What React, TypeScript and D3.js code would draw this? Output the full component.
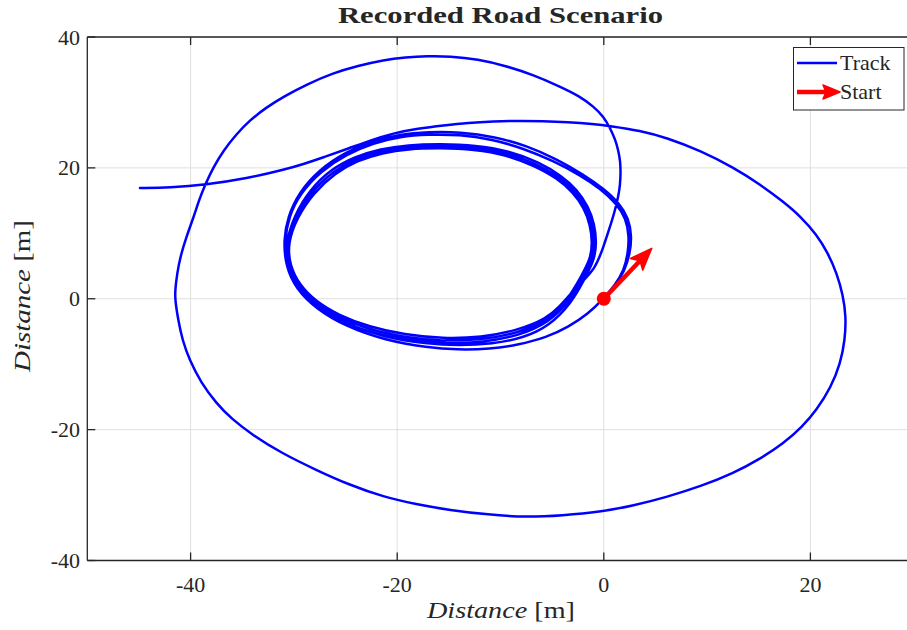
import React from 'react';
import * as d3 from 'd3';

type P = [number, number];

// Axis settings
const xDomain: P = [-50, 30];
const yDomain: P = [-40, 40];
const xTicks = [-40, -20, 0, 20];
const yTicks = [-40, -20, 0, 20, 40];

// Track: laps around the small loop, then the big loop and the tail
const lapA: P[] = [
  [0, 0], [1.1, 2.0], [2.0, 4.2], [2.55, 7.0], [2.7, 9.6], [2.4, 12.3], [1.5, 14.6], [0.0, 16.8],
  [-2.0, 19.0], [-4.5, 21.3], [-7.5, 23.4], [-10.5, 24.75], [-13.9, 25.5], [-17.0, 25.5], [-19.7, 25.15],
  [-22.4, 24.1], [-25.0, 22.4], [-27.5, 19.8], [-29.5, 16.3], [-30.6, 12.5], [-31.0, 9.0], [-30.8, 5.0],
  [-29.8, 1.5], [-27.8, -1.6], [-25.0, -4.2], [-21.3, -6.3], [-17.0, -7.5], [-14.2, -7.8], [-11.0, -7.7],
  [-8.4, -7.1], [-5.5, -5.9], [-3.4, -4.3], [-1.5, -2.3], [-0.1, -0.1],
];
const lapB: P[] = [
  [1.1, 2.1], [1.95, 4.3], [2.35, 7.0], [2.45, 9.6], [2.15, 12.3], [1.2, 14.6], [-0.3, 16.8], [-2.3, 18.9],
  [-4.8, 21.0], [-7.8, 23.0], [-10.8, 24.35], [-14.0, 25.1], [-17.0, 25.1], [-19.7, 24.8], [-22.3, 23.8],
  [-24.9, 22.1], [-27.4, 19.5], [-29.4, 16.1], [-30.5, 12.5], [-30.9, 9.0], [-30.7, 5.0], [-29.7, 1.6],
  [-27.7, -1.4], [-24.9, -3.9], [-21.2, -5.9], [-17.2, -6.9], [-14.0, -7.15], [-10.8, -6.9], [-7.8, -6.0],
  [-5.3, -4.2],
];
const lapC: P[] = [
  [-3.1, -0.6], [-1.8, 3.2], [-0.9, 6.0], [-0.7, 8.6], [-0.9, 11.4], [-1.5, 14.1], [-2.6, 16.7], [-4.1, 18.8],
  [-6.3, 20.9], [-9.2, 22.6], [-12.4, 23.45], [-15.8, 23.65], [-19.0, 23.5], [-21.6, 22.9], [-24.1, 21.7],
  [-26.4, 19.8], [-28.5, 16.6], [-30.0, 12.6], [-30.8, 8.5], [-30.6, 4.9], [-29.7, 1.8], [-28.1, -0.9],
  [-25.9, -3.1], [-22.9, -5.1], [-19.3, -6.3], [-15.6, -6.9], [-11.8, -6.7], [-8.3, -5.7], [-5.3, -3.6],
];
const lapD: P[] = [
  [-3.3, -0.4], [-2.0, 3.3], [-1.1, 6.0], [-0.9, 8.6], [-1.1, 11.3], [-1.7, 14.0], [-2.8, 16.5], [-4.3, 18.6],
  [-6.5, 20.6], [-9.3, 22.3], [-12.5, 23.15], [-15.8, 23.35], [-19.0, 23.2], [-21.5, 22.6], [-24.0, 21.4],
  [-26.2, 19.5], [-28.3, 16.4], [-29.9, 12.5], [-30.7, 8.5], [-30.5, 5.0], [-29.6, 2.0], [-28.0, -0.6],
  [-25.8, -2.8], [-22.8, -4.7], [-19.3, -5.9], [-15.6, -6.5], [-11.8, -6.3], [-8.4, -5.3], [-5.4, -3.3],
];
const lapE: P[] = [
  [-3.5, -0.2], [-2.2, 3.4], [-1.3, 6.0], [-1.1, 8.6], [-1.3, 11.2], [-1.9, 13.9], [-3.0, 16.3], [-4.5, 18.4],
  [-6.7, 20.3], [-9.4, 22.0], [-12.6, 22.85], [-15.8, 23.05], [-19.0, 22.9], [-21.4, 22.3], [-23.9, 21.1],
  [-26.0, 19.2], [-28.1, 16.2], [-29.7, 12.4], [-30.6, 8.5], [-30.4, 5.1], [-29.5, 2.2], [-27.9, -0.4],
  [-25.7, -2.5], [-22.7, -4.3], [-19.3, -5.5], [-15.6, -6.1], [-11.8, -5.9], [-8.5, -4.9], [-5.5, -3.0],
];
const exitPath: P[] = [
  [-4.3, -1.2], [-3.3, 0.6], [-2.1, 2.6], [-0.85, 4.6], [-0.1, 7.6], [0.6, 11.0], [1.05, 13.3], [1.4, 15.6],
  [1.58, 17.4], [1.63, 19.2], [1.6, 21.0], [1.4, 22.7], [1.1, 24.4], [0.6, 26.1], [0.0, 27.8], [-1.0, 29.4],
  [-2.4, 31.0], [-4.2, 32.4], [-6.8, 34.2], [-9.5, 35.6], [-12.2, 36.6], [-14.9, 37.07], [-17.1, 37.1],
  [-19.2, 36.9], [-21.3, 36.5], [-23.8, 35.6], [-26.2, 34.5], [-28.7, 32.8], [-31.0, 30.9], [-32.7, 29.2],
  [-34.25, 27.3], [-35.6, 25.1], [-36.8, 22.7], [-37.8, 20.1], [-38.6, 17.4], [-39.2, 15.0], [-39.7, 12.5],
  [-40.4, 9.5], [-41.0, 6.4], [-41.3, 3.9], [-41.5, 1.3], [-41.5, -0.2], [-41.2, -3.25], [-40.8, -6.3],
  [-40.1, -9.4], [-39.0, -12.8], [-37.5, -16.0], [-36.0, -18.4], [-34.2, -20.6], [-31.2, -23.6],
  [-27.8, -26.2], [-24.7, -28.4], [-21.3, -30.3], [-18.2, -31.4], [-14.9, -32.3], [-11.2, -33.0],
  [-7.5, -33.4], [-4.0, -33.1], [-0.4, -32.6], [2.9, -31.6], [6.1, -30.3], [9.5, -28.6], [12.5, -26.7],
  [15.1, -24.5], [17.4, -22.1], [19.2, -19.6], [20.6, -17.0], [22.0, -13.5], [22.9, -9.9], [23.35, -6.3],
  [23.45, -2.7], [23.15, 0.6], [22.55, 3.9], [21.7, 7.0], [20.55, 9.9], [19.1, 12.5], [17.4, 14.8],
  [15.2, 17.4], [12.5, 20.1], [9.4, 22.6], [6.1, 24.6], [3.5, 25.7], [0.6, 26.4], [-1.0, 26.7],
  [-3.5, 27.0], [-5.9, 27.15], [-8.3, 27.2], [-10.7, 27.1], [-13.1, 26.9], [-15.5, 26.5], [-18.0, 26.0],
  [-20.4, 25.3], [-22.6, 24.2], [-24.8, 22.9], [-27.0, 21.7], [-29.0, 20.6], [-31.0, 19.7], [-34.5, 18.4],
  [-38.6, 17.4], [-42.0, 17.0], [-44.9, 16.93],
];

const startPoint: P = [0, 0];
const startArrowTip: P = [4.64, 7.7];

const titleText = 'Recorded Road Scenario';
const legendLabels = ['Track', 'Start'];

const AX = '#262626';
const GRID = '#dfdfdf';
const FONT = 'Liberation Serif';

// Arrow head geometry (notched head like MATLAB quiver with thick lines)
function arrowHead(x1: number, y1: number, x2: number, y2: number, len: number, half: number, notch: number) {
  const dx = x2 - x1, dy = y2 - y1;
  const L = Math.hypot(dx, dy);
  const ux = dx / L, uy = dy / L;
  const bx = x2 - ux * len, by = y2 - uy * len;
  const nx = x2 - ux * (len - notch), ny = y2 - uy * (len - notch);
  const px = -uy, py = ux;
  return {
    base: [nx, ny] as P,
    pts: `${x2},${y2} ${bx + px * half},${by + py * half} ${nx},${ny} ${bx - px * half},${by - py * half}`,
  };
}

export default function App() {
  const W = 907, H = 630;
  const x = d3.scaleLinear().domain(xDomain).range([87.3, 913.7]);
  const y = d3.scaleLinear().domain(yDomain).range([560.5, 37]);
  const line = d3.line<P>().x(d => x(d[0])).y(d => y(d[1])).curve(d3.curveBasis);
  const track = [...lapA, ...lapB, ...lapC, ...lapD, ...lapE, ...exitPath];

  const x0 = x.range()[0], x1 = x.range()[1];
  const y0 = y.range()[0], y1 = y.range()[1];
  const tickLen = 8;

  const sx = x(startPoint[0]), sy = y(startPoint[1]);
  const tx = x(startArrowTip[0]), ty = y(startArrowTip[1]);
  const head = arrowHead(sx, sy, tx, ty, 22, 8.5, 5);

  const legHead = arrowHead(797, 92, 840, 92, 17, 7, 3);

  return (
    <svg width={W} height={H} style={{ position: 'absolute', left: 0, top: 0, display: 'block', background: '#fff' }}>
      <rect x={0} y={0} width={W} height={H} fill="#fff" />
      {/* grid */}
      {xTicks.map(t => (
        <line key={'gx' + t} x1={x(t)} x2={x(t)} y1={y0} y2={y1} stroke={GRID} strokeWidth={1} />
      ))}
      {yTicks.map(t => (
        <line key={'gy' + t} x1={x0} x2={x1} y1={y(t)} y2={y(t)} stroke={GRID} strokeWidth={1} />
      ))}
      {/* track */}
      <path d={line(track) || ''} fill="none" stroke="#0000ff" strokeWidth={2.5} strokeLinejoin="round" strokeLinecap="round" />
      {/* start arrow */}
      <line x1={sx} y1={sy} x2={head.base[0]} y2={head.base[1]} stroke="#ff0000" strokeWidth={4.5} />
      <polygon points={head.pts} fill="#ff0000" stroke="#ff0000" strokeWidth={1.5} strokeLinejoin="round" />
      <circle cx={sx} cy={sy} r={7} fill="#ff0000" />
      {/* axes box */}
      <line x1={x0} x2={x0} y1={y0} y2={y1} stroke={AX} strokeWidth={1.3} />
      <line x1={x0} x2={x1} y1={y0} y2={y0} stroke={AX} strokeWidth={1.3} />
      <line x1={x0} x2={x1} y1={y1} y2={y1} stroke={AX} strokeWidth={1.3} />
      <line x1={x1} x2={x1} y1={y0} y2={y1} stroke={AX} strokeWidth={1.3} />
      {xTicks.map(t => (
        <g key={'tx' + t}>
          <line x1={x(t)} x2={x(t)} y1={y0} y2={y0 - tickLen} stroke={AX} strokeWidth={1.3} />
          <line x1={x(t)} x2={x(t)} y1={y1} y2={y1 + tickLen} stroke={AX} strokeWidth={1.3} />
          <text x={x(t)} y={592} fontFamily={FONT} fontSize={22} fill={AX} textAnchor="middle">{String(t)}</text>
        </g>
      ))}
      {yTicks.map(t => (
        <g key={'ty' + t}>
          <line x1={x0} x2={x0 + tickLen} y1={y(t)} y2={y(t)} stroke={AX} strokeWidth={1.3} />
          <text x={80} y={y(t) + 7.5} fontFamily={FONT} fontSize={22} fill={AX} textAnchor="end">{String(t)}</text>
        </g>
      ))}
      {/* title */}
      <text x={500.5} y={23} fontFamily={FONT} fontWeight="bold" fontSize={23} fill={AX} textAnchor="middle"
        textLength={325} lengthAdjust="spacingAndGlyphs">{titleText}</text>
      {/* x label */}
      <text x={427} y={618} fontFamily={FONT} fontSize={23} fill={AX} textLength={148} lengthAdjust="spacingAndGlyphs">
        <tspan fontStyle="italic">Distance</tspan><tspan> [m]</tspan>
      </text>
      {/* y label */}
      <text transform={`translate(30, 372) rotate(-90)`} x={0} y={0} fontFamily={FONT} fontSize={23} fill={AX}
        textLength={152} lengthAdjust="spacingAndGlyphs">
        <tspan fontStyle="italic">Distance</tspan><tspan> [m]</tspan>
      </text>
      {/* legend */}
      <rect x={793.5} y={47.5} width={110.5} height={62.5} fill="#fff" stroke={AX} strokeWidth={1} />
      <line x1={797} x2={837} y1={63} y2={63} stroke="#0000ff" strokeWidth={2.5} />
      <text x={840} y={70} fontFamily={FONT} fontSize={22} fill={AX}>{legendLabels[0]}</text>
      <line x1={797} x2={legHead.base[0]} y1={92} y2={92} stroke="#ff0000" strokeWidth={4.5} />
      <polygon points={legHead.pts} fill="#ff0000" stroke="#ff0000" strokeWidth={1.5} strokeLinejoin="round" />
      <text x={840} y={99} fontFamily={FONT} fontSize={22} fill={AX}>{legendLabels[1]}</text>
    </svg>
  );
}
